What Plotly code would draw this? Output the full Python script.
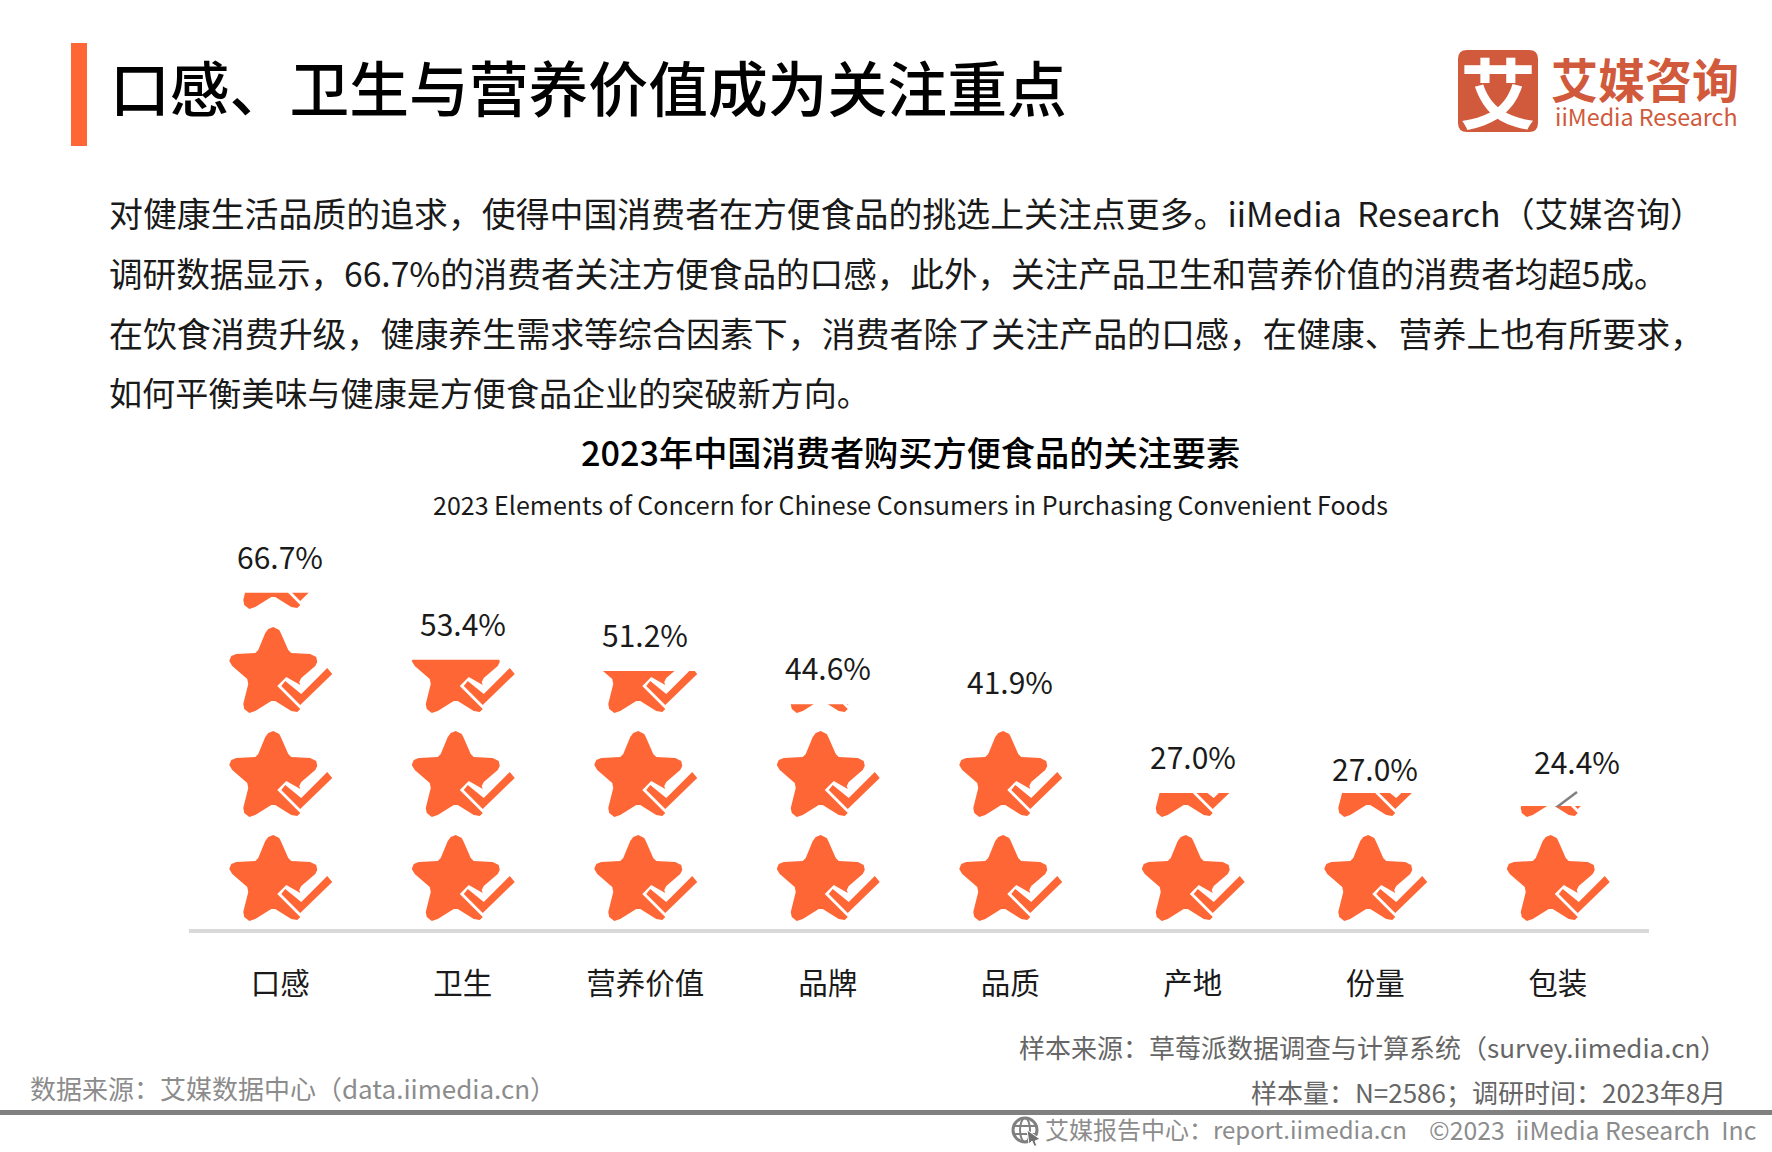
import plotly.graph_objects as go

# chart data
categories = ["口感", "卫生", "营养价值", "品牌", "品质", "产地", "份量", "包装"]
values = [66.7, 53.4, 51.2, 44.6, 41.9, 27.0, 27.0, 24.4]
# hand placed offsets of the value labels, pixels
label_xshift = [0, 0, 0, 0, 0, 0, 0, 19]
label_yshift = [37, 37, 37, 37, 37, 37, 25, 45]

body_lines = [
    "对健康生活品质的追求，使得中国消费者在方便食品的挑选上关注点更多。iiMedia\u00a0\u00a0Research（艾媒咨询）",
    "调研数据显示，66.7%的消费者关注方便食品的口感，此外，关注产品卫生和营养价值的消费者均超5成。",
    "在饮食消费升级，健康养生需求等综合因素下，消费者除了关注产品的口感，在健康、营养上也有所要求，",
    "如何平衡美味与健康是方便食品企业的突破新方向。",
]
body_sizes = [33.9, 33.6, 33.95, 33.1]
body_y = [212.5, 272.5, 332.5, 392]

W, H = 1772, 1152
FONT = "Noto Sans CJK SC"
ORANGE = "#FF6635"
BRAND = "#D05A3B"

# icon outlines in pixels around the category centre, first value up from the star cell bottom
PX_PER_PCT = 5.04
PX_PER_CAT = 182.5
CELL = 104 / PX_PER_PCT  # one star stands for this many percent

star_outline = [
    (-7, 94), (-1, 91), (1, 87), (8, 71), (11, 68), (30, 67), (36, 64), (37, 59), (35, 55),
    (21, 43), (19, 39), (20, 36), (6, 44), (-3, 35), (20, 12), (17, 9), (11, 10), (-5, 20),
    (-9, 20), (-25, 10), (-31, 8), (-36, 12), (-37, 17), (-32, 37), (-33, 42), (-48, 55),
    (-51, 60), (-49, 65), (-44, 67), (-25, 68), (-22, 71), (-15, 88), (-12, 92),
]
check_outline = [(5, 40), (1, 35), (20, 16), (52, 47), (47, 53), (21, 27)]


def clip_below(poly, top):
    # keep the part of a polygon under a horizontal line
    out = []
    for i, (x1, y1) in enumerate(poly):
        x0, y0 = poly[i - 1]
        if (y0 <= top) != (y1 <= top):
            t = (top - y0) / (y1 - y0)
            out.append((x0 + t * (x1 - x0), top))
        if y1 <= top:
            out.append((x1, y1))
    return out


def icon_path(i, value):
    xs, ys = [], []
    row = 0
    while row * CELL < value:
        for shape in (star_outline, check_outline):
            pts = [(i + x / PX_PER_CAT, row * CELL + y / PX_PER_PCT) for x, y in shape]
            pts = clip_below(pts, value)
            if pts:
                xs += [p[0] for p in pts] + [pts[0][0], None]
                ys += [p[1] for p in pts] + [pts[0][1], None]
        row += 1
    return xs, ys


fig = go.Figure()
for i, (cat, val) in enumerate(zip(categories, values)):
    xs, ys = icon_path(i, val)
    fig.add_trace(go.Scatter(
        x=xs, y=ys, mode="lines", fill="toself", fillcolor=ORANGE,
        line=dict(width=0, color=ORANGE), name=cat, hoverinfo="skip",
    ))


def px_x(x):
    return x / W


def px_y(y):
    return 1 - y / H


def text(x, y, s, size, color="#1a1a1a", anchor="left", weight=None):
    fig.add_annotation(
        x=px_x(x), y=px_y(y), xref="paper", yref="paper", text=s, showarrow=False,
        xanchor=anchor, yanchor="middle", align=anchor,
        font=dict(family=FONT, size=size, color=color, weight=weight),
    )


def box(x0, y0, x1, y1, color):
    fig.add_shape(type="rect", xref="paper", yref="paper", x0=px_x(x0), x1=px_x(x1),
                  y0=px_y(y0), y1=px_y(y1), fillcolor=color, line_width=0, layer="below")


def line(x0, y0, x1, y1, color, width):
    fig.add_shape(type="line", xref="paper", yref="paper", x0=px_x(x0), x1=px_x(x1),
                  y0=px_y(y0), y1=px_y(y1), line=dict(color=color, width=width))


# header
box(71, 43, 87, 146, ORANGE)
text(108, 86, "口感、卫生与营养价值成为关注重点", 59.8, "#000000", weight=500)

# logo
r = 9
x0, x1, y0, y1 = px_x(1458), px_x(1538), px_y(50), px_y(132)
rx, ry = r / W, r / H
fig.add_shape(
    type="path", xref="paper", yref="paper", fillcolor=BRAND, line_width=0, layer="below",
    path=f"M {x0 + rx} {y0} L {x1 - rx} {y0} Q {x1} {y0} {x1} {y0 - ry} L {x1} {y1 + ry} "
         f"Q {x1} {y1} {x1 - rx} {y1} L {x0 + rx} {y1} Q {x0} {y1} {x0} {y1 + ry} "
         f"L {x0} {y0 - ry} Q {x0} {y0} {x0 + rx} {y0} Z",
)
text(1498, 90, "艾", 76, "#ffffff", "center", 700)
text(1549, 77, "艾媒咨询", 47, BRAND, weight=700)
text(1553, 116, "iiMedia Research", 23.3, BRAND)

# body copy
for s, size, y in zip(body_lines, body_sizes, body_y):
    text(107, y, s, size)

# chart titles
text(910, 451, "2023年中国消费者购买方便食品的关注要素", 34.2, "#000000", "center", 500)
text(910, 504, "2023 Elements of Concern for Chinese Consumers in Purchasing Convenient Foods", 25, "#1a1a1a", "center")

# value labels
for i, val in enumerate(values):
    fig.add_annotation(
        x=i, y=val, text=f"{val:.1f}%", showarrow=False, xanchor="center", yanchor="middle",
        xshift=label_xshift[i], yshift=label_yshift[i],
        font=dict(family=FONT, size=30, color="#1a1a1a"),
    )

# stray grey stroke above the last icon
line(1557, 807, 1577, 792, "#808080", 2.5)

# sources and footer
text(1728, 1046, "样本来源：草莓派数据调查与计算系统（survey.iimedia.cn）", 26, "#666666", "right")
text(1728, 1091, "样本量：N=2586；调研时间：2023年8月", 26, "#666666", "right")
text(28, 1087, "数据来源：艾媒数据中心（data.iimedia.cn）", 26, "#8c8c8c")
box(0, 1110, W, 1115, "#808080")
text(1043, 1128.5, "艾媒报告中心：report.iimedia.cn", 24, "#8c8c8c")
text(1758, 1128.5, "©2023\u00a0\u00a0iiMedia Research\u00a0\u00a0Inc", 24.8, "#8c8c8c", "right")

# globe mark with cursor
fig.add_shape(type="circle", xref="paper", yref="paper", x0=px_x(1013), x1=px_x(1037),
              y0=px_y(1118), y1=px_y(1142), line=dict(color="#808080", width=3))
fig.add_shape(type="circle", xref="paper", yref="paper", x0=px_x(1020), x1=px_x(1030),
              y0=px_y(1118), y1=px_y(1142), line=dict(color="#808080", width=2))
line(1014, 1126, 1036, 1126, "#808080", 2)
line(1014, 1134, 1036, 1134, "#808080", 2)
x, y = px_x, px_y
fig.add_shape(type="path", xref="paper", yref="paper", fillcolor="#707070", line=dict(color="#ffffff", width=1),
              path=f"M {x(1027)} {y(1130)} L {x(1040)} {y(1139)} L {x(1035)} {y(1141)} L {x(1037)} {y(1146)} "
                   f"L {x(1034)} {y(1146)} L {x(1032)} {y(1141)} L {x(1029)} {y(1144)} Z")

fig.update_layout(
    width=W, height=H, margin=dict(l=0, r=0, t=0, b=0), autosize=False,
    paper_bgcolor="white", plot_bgcolor="white", showlegend=False,
    xaxis=dict(
        domain=[189 / W, 1649 / W], range=[-0.5, 7.5], tickmode="array",
        tickvals=list(range(len(categories))), ticktext=categories,
        showgrid=False, zeroline=False, showline=True, linecolor="#d9d9d9", linewidth=4,
        ticks="outside", ticklen=26, tickcolor="rgba(0,0,0,0)", tickwidth=1,
        tickfont=dict(family=FONT, size=29.5, color="#1a1a1a"), fixedrange=True,
    ),
    yaxis=dict(
        domain=[1 - 929 / H, 1 - 541 / H], range=[0, 388 / PX_PER_PCT],
        visible=False, fixedrange=True,
    ),
)

fig.write_html("out.html", config={"displayModeBar": False},
               post_script="document.body.style.margin='0';")
